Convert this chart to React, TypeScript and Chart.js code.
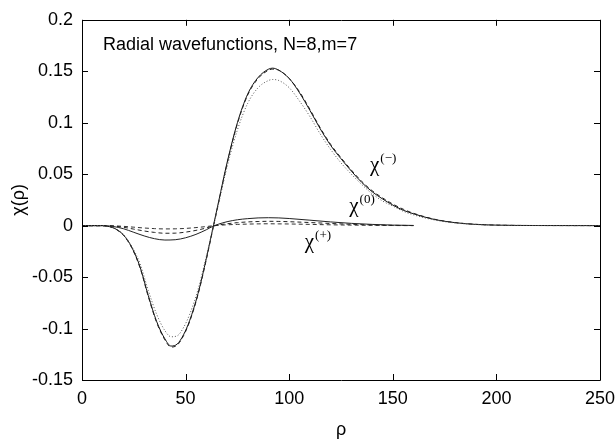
import React, { useEffect, useRef } from "react";
import { Chart, registerables } from "chart.js";

Chart.register(...registerables);

const TITLE_TEXT = "Radial wavefunctions, N=8,m=7";
const X_TICKS = [0, 50, 100, 150, 200, 250];
const Y_TICKS = [-0.15, -0.1, -0.05, 0, 0.05, 0.1, 0.15, 0.2];

const rhoMinus = [0, 5, 10, 12, 15, 18, 20, 24, 28, 32, 36, 40, 43, 46, 49, 52, 56, 60, 63, 66, 70, 75, 80, 85, 90, 92, 95, 100, 105, 110, 115, 120, 125, 130, 135, 140, 145, 150, 155, 160, 170, 180, 190, 200, 210, 220, 250];
const chiMinusSolid = [0, 0, 0, -0.0005, -0.002, -0.0055, -0.009, -0.021, -0.04, -0.068, -0.093, -0.11, -0.117, -0.115, -0.106, -0.092, -0.066, -0.032, -0.004, 0.024, 0.061, 0.1, 0.128, 0.144, 0.152, 0.153, 0.151, 0.143, 0.129, 0.112, 0.094, 0.078, 0.065, 0.053, 0.042, 0.033, 0.026, 0.02, 0.015, 0.0115, 0.006, 0.0029, 0.0012, 0.0005, 0.0002, 0.0001, 0];
const chiMinusDashed = [0, 0, 0, -0.0005, -0.0021, -0.0057, -0.0093, -0.0215, -0.041, -0.069, -0.094, -0.111, -0.118, -0.116, -0.107, -0.093, -0.067, -0.033, -0.005, 0.023, 0.06, 0.099, 0.127, 0.143, 0.151, 0.152, 0.151, 0.143, 0.13, 0.113, 0.095, 0.079, 0.066, 0.054, 0.043, 0.034, 0.027, 0.021, 0.016, 0.012, 0.0063, 0.003, 0.0013, 0.0005, 0.0002, 0.0001, 0];
const chiMinusDotted = [0, 0, 0, -0.0004, -0.0018, -0.005, -0.0085, -0.02, -0.037, -0.063, -0.086, -0.102, -0.108, -0.107, -0.099, -0.086, -0.062, -0.03, -0.004, 0.022, 0.057, 0.093, 0.119, 0.134, 0.141, 0.142, 0.141, 0.134, 0.121, 0.106, 0.089, 0.074, 0.061, 0.05, 0.04, 0.031, 0.024, 0.019, 0.014, 0.0105, 0.0055, 0.0026, 0.0011, 0.0004, 0.0002, 0.0001, 0];

const rhoSmall = [0, 10, 15, 20, 25, 30, 35, 40, 45, 50, 55, 60, 63, 66, 70, 75, 80, 85, 90, 95, 100, 110, 120, 130, 140, 150, 160];
const chiZeroSolid = [0, 0, -0.0008, -0.003, -0.0065, -0.01, -0.0127, -0.014, -0.0137, -0.0118, -0.0085, -0.004, -0.0008, 0.0015, 0.0038, 0.0057, 0.0068, 0.0075, 0.0077, 0.0075, 0.0069, 0.0053, 0.0036, 0.0022, 0.0012, 0.0005, 0.0002];
const chiZeroDashed = [0, 0, -0.0004, -0.0016, -0.0034, -0.0052, -0.0066, -0.0074, -0.0073, -0.0063, -0.0046, -0.0023, -0.0006, 0.0007, 0.0018, 0.0029, 0.0036, 0.004, 0.0042, 0.0041, 0.0038, 0.003, 0.0021, 0.0013, 0.0007, 0.0003, 0.0001];
const chiPlusDashed = [0, 0, -0.0002, -0.0007, -0.0015, -0.0023, -0.0029, -0.0032, -0.0031, -0.0027, -0.0019, -0.0009, -0.0002, 0.0003, 0.0008, 0.0012, 0.0015, 0.0017, 0.0018, 0.0017, 0.0016, 0.0012, 0.0008, 0.0005, 0.0003, 0.0001, 0];

const pts = (xs: number[], ys: number[]) => xs.map((x, i) => ({ x, y: ys[i] }));

const SANS = "'Liberation Sans', Arial, Helvetica, sans-serif";
const SERIF = "'Liberation Serif', 'Times New Roman', serif";

const framePlugin = {
  id: "frame",
  afterDraw(chart: any) {
    const { ctx, chartArea: a, scales } = chart;
    const xs = scales.x;
    const ys = scales.y;
    ctx.save();
    ctx.strokeStyle = "#000";
    ctx.lineWidth = 1;
    ctx.beginPath();
    ctx.rect(Math.round(a.left) + 0.5, Math.round(a.top) + 0.5, Math.round(a.right - a.left), Math.round(a.bottom - a.top));
    ctx.stroke();
    const tl = 6;
    ctx.beginPath();
    X_TICKS.forEach((v) => {
      const px = Math.round(xs.getPixelForValue(v)) + 0.5;
      ctx.moveTo(px, a.bottom);
      ctx.lineTo(px, a.bottom - tl);
      ctx.moveTo(px, a.top);
      ctx.lineTo(px, a.top + tl);
    });
    Y_TICKS.forEach((v) => {
      const py = Math.round(ys.getPixelForValue(v)) + 0.5;
      ctx.moveTo(a.left, py);
      ctx.lineTo(a.left + tl, py);
      ctx.moveTo(a.right, py);
      ctx.lineTo(a.right - tl, py);
    });
    ctx.stroke();

    // title inside plot
    ctx.fillStyle = "#000";
    ctx.font = `18px ${SANS}`;
    ctx.textBaseline = "middle";
    ctx.textAlign = "left";
    ctx.fillText(TITLE_TEXT, 103, 45);

    // curve labels
    const label = (sup: string, x: number, y: number) => {
      ctx.font = `21px ${SERIF}`;
      ctx.textBaseline = "alphabetic";
      ctx.fillText("\u03c7", x, y);
      const w = ctx.measureText("\u03c7").width;
      ctx.font = `13px ${SERIF}`;
      ctx.fillText(sup, x + w + 1, y - 9);
    };
    label("(\u2212)", xs.getPixelForValue(139), ys.getPixelForValue(0.053));
    label("(0)", xs.getPixelForValue(129), ys.getPixelForValue(0.013));
    label("(+)", xs.getPixelForValue(107.5), ys.getPixelForValue(-0.0215));
    ctx.restore();
  },
};

export default function App() {
  const ref = useRef<HTMLCanvasElement | null>(null);
  useEffect(() => {
    if (!ref.current) return;
    const line = (data: any, dash: number[], color: string) => ({
      data,
      borderColor: color,
      borderWidth: 1,
      borderDash: dash,
      pointRadius: 0,
      fill: false,
      cubicInterpolationMode: "monotone" as const,
    });
    const chart = new Chart(ref.current, {
      type: "line",
      data: {
        datasets: [
          line(pts(rhoMinus, chiMinusDotted), [1, 2], "#555"),
          line(pts(rhoMinus, chiMinusDashed), [4, 3], "#222"),
          line(pts(rhoMinus, chiMinusSolid), [], "#111"),
          line(pts(rhoSmall, chiZeroSolid), [], "#222"),
          line(pts(rhoSmall, chiZeroDashed), [4, 3], "#222"),
          line(pts(rhoSmall, chiPlusDashed), [4, 3], "#333"),
        ],
      },
      options: {
        animation: false,
        responsive: false,
        maintainAspectRatio: false,
        layout: { padding: { top: 14, right: 0, left: 0, bottom: 0 } },
        plugins: { legend: { display: false }, tooltip: { enabled: false } },
        scales: {
          x: {
            type: "linear",
            min: 0,
            max: 250,
            afterFit: (s: any) => { s.height = 63; s.paddingRight = 15; },
            afterBuildTicks: (s: any) => { s.ticks = X_TICKS.map((v) => ({ value: v })); },
            grid: { display: false, drawTicks: false },
            border: { display: false },
            ticks: { color: "#000", padding: 8, font: { family: SANS, size: 18 } },
            title: { display: true, text: "\u03c1", color: "#000", padding: { top: 0, bottom: 2 }, font: { family: SANS, size: 18 } },
          },
          y: {
            type: "linear",
            min: -0.15,
            max: 0.2,
            afterFit: (s: any) => { s.width = 82; },
            afterBuildTicks: (s: any) => { s.ticks = Y_TICKS.map((v) => ({ value: v })); },
            grid: { display: false, drawTicks: false },
            border: { display: false },
            ticks: {
              color: "#000",
              padding: 9,
              font: { family: SANS, size: 18 },
              callback: (v: any) => String(Math.round(Number(v) * 100) / 100),
            },
            title: { display: true, text: "\u03c7(\u03c1)", color: "#000", padding: { top: 8, bottom: 0 }, font: { family: SANS, size: 18 } },
          },
        },
      },
      plugins: [framePlugin],
    });
    return () => chart.destroy();
  }, []);
  return (
    <div style={{ position: "fixed", left: 0, top: 0, width: 615, height: 443, background: "#fff" }}>
      <canvas ref={ref} width={615} height={443} style={{ display: "block" }} />
    </div>
  );
}
